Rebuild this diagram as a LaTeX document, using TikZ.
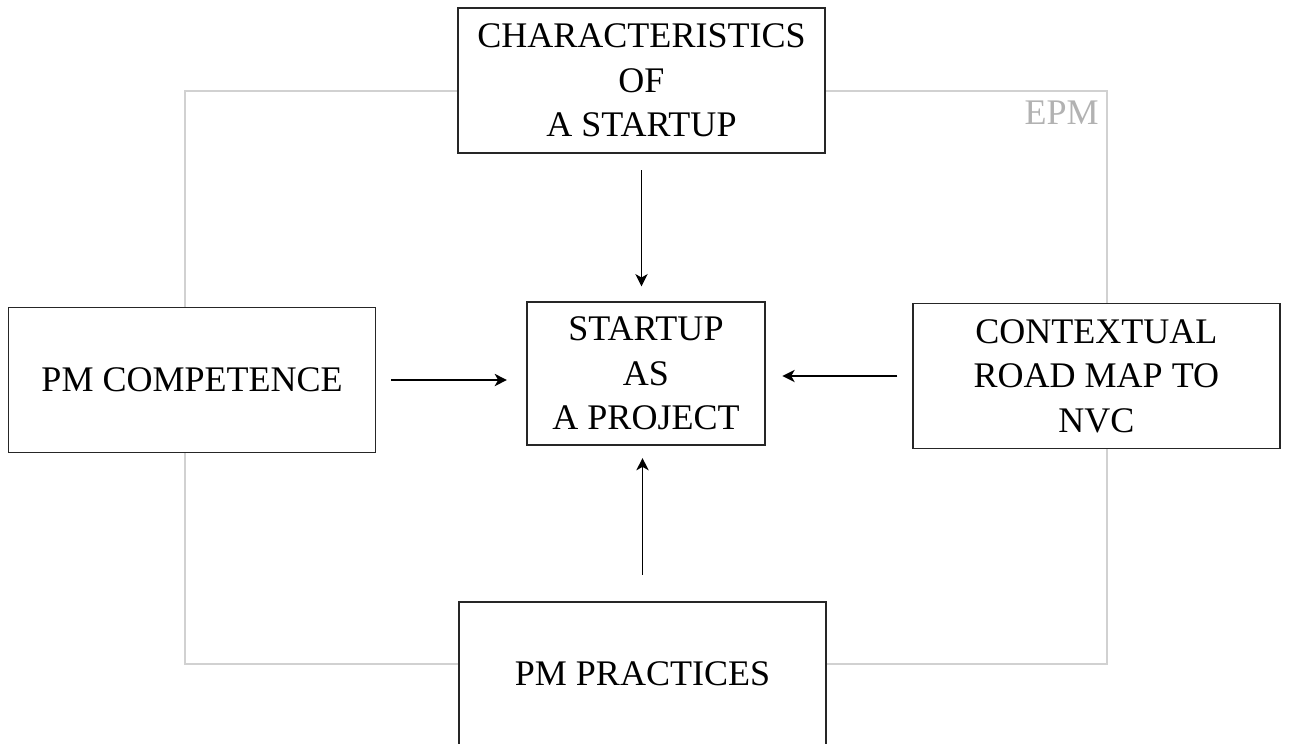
\documentclass[tikz,border=0pt]{standalone}
\usepackage{fontspec}
\setmainfont{Liberation Serif}
\usepackage{tikz}
\usetikzlibrary{arrows.meta, positioning}

\begin{document}
\begin{tikzpicture}[x=0.02cm, y=-0.02cm, on grid, >={Stealth[length=7pt,width=7pt,inset=2pt]},
        every node/.style={font=\fontsize{20.5}{25.3}\selectfont},
        block/.style={draw=black!85, line width=0.85pt, fill=white, align=center,
            minimum width=7.34cm, minimum height=2.9cm, inner sep=0pt},
        core/.style={block, minimum width=4.76cm, minimum height=2.86cm},
        frame/.style={draw=black!18, line width=1.1pt},
        link/.style={->, line width=0.85pt}]

        \useasboundingbox (0,0) rectangle (1289,744);

        % EPM frame behind the boxes
        \draw[frame] (185,91) rectangle (1107,664);
        \node[text=black!30, anchor=base east, inner sep=0pt] (epm) at (1099,124) {EPM};

        \node[core] (start_proj) at (646,373.5) {STARTUP\\AS\\A PROJECT};
        \node[block] (charac) [above=5.86cm of start_proj, xshift=-0.09cm] {CHARACTERISTICS\\OF\\A STARTUP};
        \node[block] (pm_comp) [left=9.08cm of start_proj, yshift=-0.13cm] {PM COMPETENCE};
        \node[block] (road_map) [right=9.01cm of start_proj, yshift=-0.05cm] {CONTEXTUAL\\ROAD MAP TO\\NVC};
        \node[block, minimum height=2.88cm] (pm_prac) [below=6.01cm of start_proj, xshift=-0.07cm] {PM PRACTICES};

        \draw[link, shorten <=9.5pt, shorten >=8.5pt] (charac.south) -- (charac.south |- start_proj.north);
        \draw[link, shorten <=8.5pt, shorten >=11pt] (pm_comp.east) -- (pm_comp.east -| start_proj.west);
        \draw[link, shorten <=8.5pt, shorten >=9.5pt] (road_map.west) -- (road_map.west -| start_proj.east);
        \draw[link, shorten <=15pt, shorten >=7pt] (pm_prac.north) -- (pm_prac.north |- start_proj.south);
    \end{tikzpicture}
\end{document}
